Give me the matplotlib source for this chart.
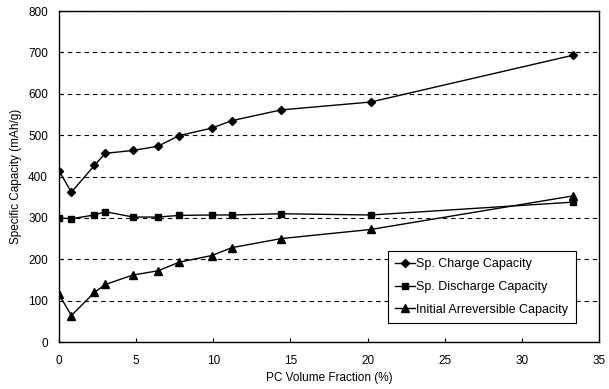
import matplotlib
matplotlib.use('Agg')
import matplotlib.pyplot as plt

plt.rcParams['font.family'] = ['Liberation Sans', 'DejaVu Sans']

# data
pc_frac = [0, 0.8, 2.3, 3.0, 4.8, 6.4, 7.8, 9.9, 11.2, 14.4, 20.2, 33.3]
charge = [414, 362, 427, 456, 463, 473, 499, 517, 535, 561, 580, 693]
discharge = [300, 298, 307, 315, 302, 302, 306, 307, 307, 310, 307, 338]
irreversible = [115, 64, 120, 139, 162, 172, 193, 209, 228, 250, 272, 353]

fig = plt.figure(figsize=(6.09, 3.89), dpi=100)
ax = fig.add_axes([0.0969, 0.1208, 0.8867, 0.8509])

ax.plot(pc_frac, charge, 'k-', marker='D', markersize=4.5, lw=1.0, label='Sp. Charge Capacity')
ax.plot(pc_frac, discharge, 'k-', marker='s', markersize=5, lw=1.0, label='Sp. Discharge Capacity')
ax.plot(pc_frac, irreversible, 'k-', marker='^', markersize=5.5, lw=1.0, label='Initial Arreversible Capacity')

ax.set_xlim(0, 35)
ax.set_ylim(0, 800)
ax.set_xticks(range(0, 36, 5))
ax.set_yticks(range(0, 801, 100))
ax.yaxis.grid(True, linestyle=(0, (4, 3.5)), color='black', lw=0.8)
ax.set_axisbelow(True)
for s in ax.spines.values():
    s.set_color('black')
    s.set_linewidth(1.0)
ax.tick_params(axis='both', direction='in', length=3, labelsize=8.5, colors='black')
ax.tick_params(axis='x', pad=9)
ax.tick_params(axis='y', pad=8)

ax.set_xlabel('PC Volume Fraction (%)', fontsize=8.5)
ax.set_ylabel('Specific Capacity (mAh/g)', fontsize=8.5)

leg = ax.legend(loc='lower right', bbox_to_anchor=(0.957, 0.057), fontsize=9,
                fancybox=False, framealpha=1, edgecolor='black',
                handlelength=1.6, handletextpad=0.1, labelspacing=0.85,
                borderpad=0.6, borderaxespad=0)
leg.get_frame().set_linewidth(0.8)

plt.savefig('out.png', dpi=100)
